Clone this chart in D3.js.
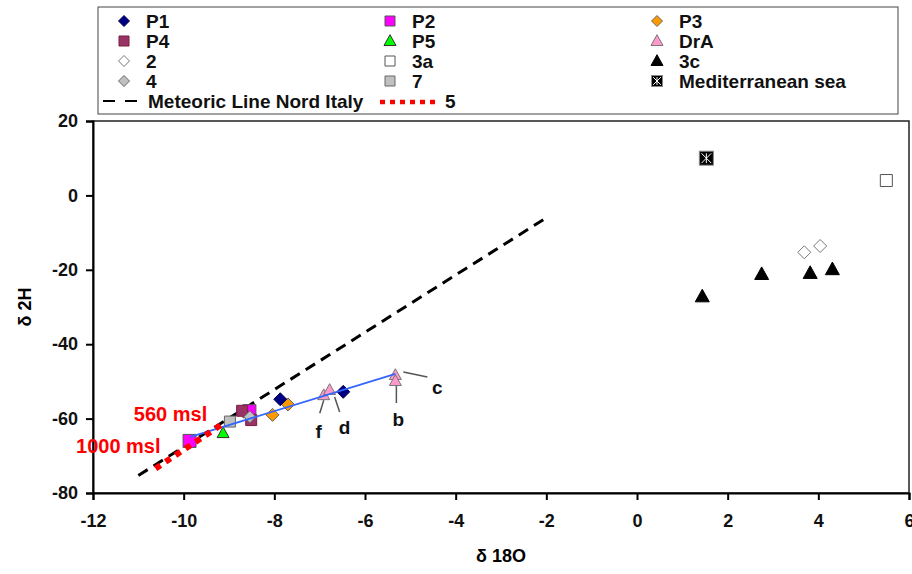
<!DOCTYPE html>
<html>
<head>
<meta charset="utf-8">
<script src="https://cdn.jsdelivr.net/npm/d3@7"></script>
<style>
  body { margin: 0; background: #fff; }
  text { font-family: "Liberation Sans", Arial, sans-serif; font-weight: bold; }
</style>
</head>
<body>
<div id="chart"></div>
<script>
// ==========================
// Data
// ==========================
const xTicks = [-12, -10, -8, -6, -4, -2, 0, 2, 4, 6];
const yTicks = [20, 0, -20, -40, -60, -80];

const p1X = [-7.87, -6.48], p1Y = [-54.8, -52.8];
const p2X = [-9.87, -8.55], p2Y = [-66.0, -58.0];
const p3X = [-8.04, -7.70], p3Y = [-59.0, -56.2];
const p4X = [-8.71, -8.51], p4Y = [-57.9, -60.4];
const p5X = [-9.13], p5Y = [-63.9];
const draX = [-6.91, -6.78, -5.33, -5.33], draY = [-53.7, -52.3, -48.3, -49.9];
const s2X = [3.69, 4.04], s2Y = [-15.3, -13.6];
const s3aX = [5.5], s3aY = [4.0];
const s3cX = [1.44, 2.75, 3.82, 4.31], s3cY = [-27.2, -21.2, -20.9, -19.9];
const s4X = [-8.54], s4Y = [-59.5];
const s7X = [-8.98], s7Y = [-60.8];
const medX = [1.53], medY = [10.0];

const meteoricX = [-11, -2], meteoricY = [-75.3, -6.0];
const line5X = [-10.62, -9.15], line5Y = [-73.4, -61.5];
const blueX = [-9.85, -5.33], blueY = [-64.9, -48.0];

const line5Labels = ["1000 msl", "560 msl"];
const draLabels = ["f", "d", "c", "b"];

// ==========================
// Layout
// ==========================
const width = 912, height = 574;
const margin = { left: 93, right: 3, top: 121, bottom: 81 };
const fontSize = 18;
const legendFont = 19;

const svg = d3.select("#chart").append("svg")
    .attr("width", width)
    .attr("height", height);

const x = d3.scaleLinear().domain([-12, 6]).range([margin.left, width - margin.right]);
const y = d3.scaleLinear().domain([-80, 20]).range([height - margin.bottom, margin.top]);

// marker path builder
function shapePath(shape, r) {
    if (shape === "diamond") return `M0,${-r}L${r},0L0,${r}L${-r},0Z`;
    if (shape === "square") return `M${-r},${-r}H${r}V${r}H${-r}Z`;
    if (shape === "triangle") return `M0,${-r * 1.05}L${r},${r * 0.75}L${-r},${r * 0.75}Z`;
    return "";
}

const series = [
    { name: "P1", xs: p1X, ys: p1Y, shape: "diamond", fill: "#000080", stroke: "#000050", r: 6.5 },
    { name: "P2", xs: p2X, ys: p2Y, shape: "square", fill: "#ff00ff", stroke: "#555", r: 6.5 },
    { name: "P3", xs: p3X, ys: p3Y, shape: "diamond", fill: "#ff9900", stroke: "#666", r: 6.5 },
    { name: "P4", xs: p4X, ys: p4Y, shape: "square", fill: "#993366", stroke: "#7a1f3d", r: 5.5 },
    { name: "P5", xs: p5X, ys: p5Y, shape: "triangle", fill: "#00ff00", stroke: "#333", r: 6 },
    { name: "DrA", xs: draX, ys: draY, shape: "triangle", fill: "#ff99cc", stroke: "#777", r: 6 },
    { name: "2", xs: s2X, ys: s2Y, shape: "diamond", fill: "#fff", stroke: "#777", r: 6.5 },
    { name: "3a", xs: s3aX, ys: s3aY, shape: "square", fill: "#fff", stroke: "#555", r: 6 },
    { name: "3c", xs: s3cX, ys: s3cY, shape: "triangle", fill: "#000", stroke: "#000", r: 7 },
    { name: "4", xs: s4X, ys: s4Y, shape: "diamond", fill: "#c0c0c0", stroke: "#666", r: 6 },
    { name: "7", xs: s7X, ys: s7Y, shape: "square", fill: "#c0c0c0", stroke: "#666", r: 5.5 },
    { name: "Mediterranean sea", xs: medX, ys: medY, shape: "med", fill: "#000", stroke: "#777", r: 7 }
];

function drawMarker(g, s, cx, cy, r) {
    if (s.shape === "med") {
        g.append("rect")
            .attr("x", cx - r).attr("y", cy - r)
            .attr("width", 2 * r).attr("height", 2 * r)
            .attr("fill", "#000").attr("stroke", "#888").attr("stroke-width", 1);
        const k = r * 0.7;
        g.append("path")
            .attr("d", `M${cx},${cy - k}V${cy + k}M${cx - k},${cy - k}L${cx + k},${cy + k}M${cx + k},${cy - k}L${cx - k},${cy + k}`)
            .attr("stroke", "#fff").attr("stroke-width", 1);
        return;
    }
    g.append("path")
        .attr("d", shapePath(s.shape, r))
        .attr("transform", `translate(${cx},${cy})`)
        .attr("fill", s.fill)
        .attr("stroke", s.stroke)
        .attr("stroke-width", 1);
}

// ==========================
// Plot frame & axes
// ==========================
svg.append("rect")
    .attr("x", x(-12)).attr("y", y(20))
    .attr("width", x(6) - x(-12)).attr("height", y(-80) - y(20))
    .attr("fill", "none").attr("stroke", "#222").attr("stroke-width", 1.5);

// plain hyphen minus, as in the original
const fmt = d => String(d);

const yAxis = svg.append("g")
    .attr("transform", `translate(${x(-12)},0)`)
    .call(d3.axisLeft(y).tickValues(yTicks).tickSize(7).tickPadding(8).tickFormat(fmt));
const xAxis = svg.append("g")
    .attr("transform", `translate(0,${y(-80)})`)
    .call(d3.axisBottom(x).tickValues(xTicks).tickSize(7).tickPadding(14).tickFormat(fmt));

[xAxis, yAxis].forEach(a => {
    a.select(".domain").attr("stroke", "#000").attr("stroke-width", 2);
    a.selectAll(".tick line").attr("stroke", "#000").attr("stroke-width", 2);
    a.selectAll(".tick text")
        .attr("font-size", fontSize)
        .attr("font-family", "'Liberation Sans', Arial, sans-serif")
        .attr("font-weight", "bold")
        .attr("fill", "#111");
});

svg.append("text")
    .attr("x", (x(-12) + x(6)) / 2)
    .attr("y", 562)
    .attr("text-anchor", "middle")
    .attr("font-size", fontSize)
    .text("δ 18O");

svg.append("text")
    .attr("transform", `translate(31,${(y(20) + y(-80)) / 2}) rotate(-90)`)
    .attr("text-anchor", "middle")
    .attr("font-size", fontSize)
    .text("δ 2H");

// ==========================
// Lines
// ==========================
const lineGen = d3.line().x(d => x(d[0])).y(d => y(d[1]));

svg.append("path")
    .attr("d", lineGen(d3.zip(meteoricX, meteoricY)))
    .attr("fill", "none").attr("stroke", "#000")
    .attr("stroke-width", 3).attr("stroke-dasharray", "11,7");

// ==========================
// Points
// ==========================
const pts = svg.append("g");
// draw order similar to excel: later series on top
const order = ["2", "3a", "3c", "Mediterranean sea", "P2", "P5", "7", "P4", "4", "P3", "P1", "DrA"];
order.forEach(name => {
    const s = series.find(d => d.name === name);
    s.xs.forEach((xv, i) => drawMarker(pts, s, x(xv), y(s.ys[i]), s.r));
});

svg.append("path")
    .attr("d", lineGen(d3.zip(blueX, blueY)))
    .attr("fill", "none").attr("stroke", "#3366ff").attr("stroke-width", 1.8);

svg.append("path")
    .attr("d", lineGen(d3.zip(line5X, line5Y)))
    .attr("fill", "none").attr("stroke", "#ff0000")
    .attr("stroke-width", 6).attr("stroke-dasharray", "6,6");

// red elevation labels at the ends of line 5
svg.append("text")
    .attr("x", x(line5X[0]) + 5).attr("y", y(line5Y[0]) - 15)
    .attr("text-anchor", "end").attr("font-size", 20).attr("fill", "#ff0000")
    .text(line5Labels[0]);
svg.append("text")
    .attr("x", x(line5X[1]) - 15).attr("y", y(line5Y[1]) - 3)
    .attr("text-anchor", "end").attr("font-size", 20).attr("fill", "#ff0000")
    .text(line5Labels[1]);

// DrA annotations: leader line offsets and label offsets in px
const annot = [
    { i: 0, l: [[0, 5], [-4, 18]], t: [-5, 43] },
    { i: 1, l: [[5, 7], [10, 22]], t: [15, 44] },
    { i: 2, l: [[8, -3], [32, 2]], t: [42, 19] },
    { i: 3, l: [[1, 5], [1, 22]], t: [3, 45] }
];
annot.forEach((a, k) => {
    const cx = x(draX[a.i]), cy = y(draY[a.i]);
    svg.append("line")
        .attr("x1", cx + a.l[0][0]).attr("y1", cy + a.l[0][1])
        .attr("x2", cx + a.l[1][0]).attr("y2", cy + a.l[1][1])
        .attr("stroke", "#555").attr("stroke-width", 1.5);
    svg.append("text")
        .attr("x", cx + a.t[0]).attr("y", cy + a.t[1])
        .attr("text-anchor", "middle").attr("font-size", 19).attr("fill", "#111")
        .text(draLabels[k]);
});

// ==========================
// Legend
// ==========================
const legend = svg.append("g");
legend.append("rect")
    .attr("x", 98).attr("y", 7).attr("width", 800).attr("height", 107)
    .attr("fill", "#fff").attr("stroke", "#444").attr("stroke-width", 1);

const legendGrid = [
    ["P1", "P2", "P3"],
    ["P4", "P5", "DrA"],
    ["2", "3a", "3c"],
    ["4", "7", "Mediterranean sea"]
];
const colSym = [124, 390, 657];
const rowY = [21, 41, 61, 81, 101];

legendGrid.forEach((row, ri) => {
    row.forEach((name, ci) => {
        const s = series.find(d => d.name === name);
        const r = s.shape === "diamond" ? 5.5 : s.shape === "triangle" ? 6 : s.shape === "med" ? 5.5 : 5;
        drawMarker(legend, s, colSym[ci], rowY[ri], r);
        legend.append("text")
            .attr("x", colSym[ci] + 22).attr("y", rowY[ri] + 7)
            .attr("font-size", legendFont).attr("fill", "#111")
            .text(name);
    });
});

// line entries
legend.append("line")
    .attr("x1", 103).attr("x2", 139).attr("y1", rowY[4]).attr("y2", rowY[4])
    .attr("stroke", "#000").attr("stroke-width", 2).attr("stroke-dasharray", "12,10");
legend.append("text")
    .attr("x", 148).attr("y", rowY[4] + 7).attr("font-size", legendFont).attr("fill", "#111")
    .text("Meteoric Line Nord Italy");
legend.append("line")
    .attr("x1", 380).attr("x2", 437).attr("y1", rowY[4] + 1).attr("y2", rowY[4] + 1)
    .attr("stroke", "#ff0000").attr("stroke-width", 4.5).attr("stroke-dasharray", "5,5");
legend.append("text")
    .attr("x", 445).attr("y", rowY[4] + 7).attr("font-size", legendFont).attr("fill", "#111")
    .text("5");
</script>
</body>
</html>
